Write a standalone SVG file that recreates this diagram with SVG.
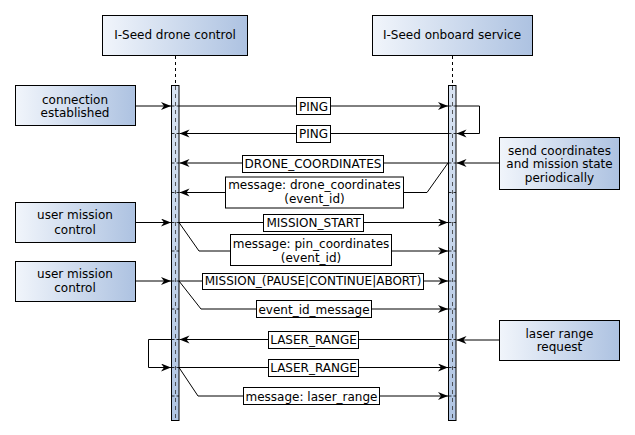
<svg xmlns="http://www.w3.org/2000/svg" width="635" height="435" viewBox="0 0 635 435">
<defs>
<linearGradient id="gBox" x1="0" y1="0" x2="1" y2="0">
<stop offset="0" stop-color="#f1f5fb"/>
<stop offset="1" stop-color="#adc2e1"/>
</linearGradient>
<linearGradient id="gBar" x1="0" y1="0" x2="0" y2="1">
<stop offset="0" stop-color="#d9e4f3"/>
<stop offset="1" stop-color="#b0c5e3"/>
</linearGradient>
<marker id="arr" markerUnits="userSpaceOnUse" markerWidth="11" markerHeight="9" refX="10" refY="4" orient="auto" viewBox="0 0 11 9">
<path d="M0,0 L10,4 L0,8 L3,4 z" fill="#000"/>
</marker>
</defs>
<style>
.box{fill:url(#gBox);stroke:#000;stroke-width:1}
.bar{fill:url(#gBar);stroke:#000;stroke-width:1}
.lbl{fill:#fff;stroke:#000;stroke-width:1}
.ar{fill:none;stroke:#000;stroke-width:1;marker-end:url(#arr)}
.life{fill:none;stroke:#000;stroke-width:1;stroke-dasharray:3 3}
.life2{fill:none;stroke:#333;stroke-width:0.8;stroke-dasharray:4 4}
.tick{fill:none;stroke:#000;stroke-width:0.8;stroke-dasharray:3 2}
text{font-family:"DejaVu Sans","Liberation Sans",sans-serif;font-size:12px;fill:#000;text-anchor:middle}
</style>
<rect width="635" height="435" fill="#fff"/>

<g id="lifeline-drone">
<rect class="box" x="102.5" y="15.5" width="145" height="40"/>
<text x="175" y="39">I-Seed drone control</text>
<line class="life" x1="175.5" y1="56" x2="175.5" y2="85"/>
<rect class="bar" x="171.5" y="85.5" width="7.5" height="335"/>
<line class="life2" x1="175.5" y1="86" x2="175.5" y2="420"/>
</g>
<g id="lifeline-onboard">
<rect class="box" x="372.5" y="15.5" width="160" height="40"/>
<text x="452" y="39">I-Seed onboard service</text>
<line class="life" x1="452.5" y1="56" x2="452.5" y2="85"/>
<rect class="bar" x="448.5" y="85.5" width="7.5" height="335"/>
<line class="life2" x1="452.5" y1="86" x2="452.5" y2="420"/>
</g>

<g id="ev-connection">
<rect class="box" x="15.5" y="85.5" width="120" height="40"/>
<text x="75" y="103.5">connection</text>
<text x="75" y="117">established</text>
</g>
<g id="ev-user1">
<rect class="box" x="15.5" y="202.5" width="120" height="40"/>
<text x="75" y="219">user mission</text>
<text x="75" y="233.5">control</text>
</g>
<g id="ev-user2">
<rect class="box" x="15.5" y="261.5" width="120" height="40"/>
<text x="75" y="277.5">user mission</text>
<text x="75" y="292">control</text>
</g>
<g id="ev-send">
<rect class="box" x="499.5" y="137.5" width="120" height="52"/>
<text x="559.5" y="154.5">send coordinates</text>
<text x="559.5" y="168">and mission state</text>
<text x="559.5" y="182">periodically</text>
</g>
<g id="ev-laser">
<rect class="box" x="499.5" y="320.5" width="120" height="40"/>
<text x="559.5" y="337.5">laser range</text>
<text x="559.5" y="351">request</text>
</g>

<g id="ticks">
<path class="tick" d="M171.5,106 H179 M171.5,133.5 H179 M171.5,163 H179 M171.5,192.5 H179 M171.5,222.5 H179 M171.5,251 H179 M171.5,281 H179 M171.5,309 H179 M171.5,339.5 H179 M171.5,367.5 H179 M171.5,396 H179"/>
<path class="tick" d="M448.5,106 H456 M448.5,133.5 H456 M448.5,163 H456 M448.5,192.5 H456 M448.5,222.5 H456 M448.5,251 H456 M448.5,281 H456 M448.5,309 H456 M448.5,339.5 H456 M448.5,367.5 H456 M448.5,396 H456"/>
</g>

<g id="connectors">
<line class="ar" x1="135.5" y1="106" x2="171" y2="106"/>
<line class="ar" x1="179" y1="106" x2="448" y2="106"/>
<path class="ar" d="M456,106 H479.5 V133.5 H456.5"/>
<line class="ar" x1="448" y1="133.5" x2="179.5" y2="133.5"/>
<line class="ar" x1="499.5" y1="163" x2="456.5" y2="163"/>
<line class="ar" x1="448" y1="163" x2="179.5" y2="163"/>
<path class="ar" d="M448,163 L427,192.5 H179.5"/>
<line class="ar" x1="135.5" y1="222.5" x2="171" y2="222.5"/>
<line class="ar" x1="179" y1="222.5" x2="448" y2="222.5"/>
<path class="ar" d="M179,222.5 L199,251 H448"/>
<line class="ar" x1="135.5" y1="281" x2="171" y2="281"/>
<line class="ar" x1="179" y1="281" x2="448" y2="281"/>
<path class="ar" d="M179,281 L201,309 H448"/>
<line class="ar" x1="499.5" y1="340" x2="456.5" y2="340"/>
<line class="ar" x1="448" y1="339.5" x2="179.5" y2="339.5"/>
<path class="ar" d="M171.5,339.5 H148.5 V367.5 H171"/>
<line class="ar" x1="179" y1="367.5" x2="448" y2="367.5"/>
<path class="ar" d="M179,367.5 L198,396 H448"/>
</g>

<g id="labels">
<rect class="lbl" x="296.5" y="97.5" width="34" height="17"/>
<text x="313.5" y="110.5">PING</text>
<rect class="lbl" x="296.5" y="125.5" width="34" height="17"/>
<text x="313.5" y="138">PING</text>
<rect class="lbl" x="242.5" y="155.5" width="141" height="17"/>
<text x="313" y="167.5">DRONE_COORDINATES</text>
<rect class="lbl" x="225.5" y="177" width="178" height="31"/>
<text x="314.5" y="189">message: drone_coordinates</text>
<text x="314.5" y="203">(event_id)</text>
<rect class="lbl" x="263.5" y="214.5" width="100" height="17"/>
<text x="313.5" y="227">MISSION_START</text>
<rect class="lbl" x="230.5" y="234.5" width="161" height="31"/>
<text x="311" y="247.5">message: pin_coordinates</text>
<text x="311" y="261.5">(event_id)</text>
<rect class="lbl" x="202.5" y="273.5" width="221" height="16"/>
<text x="313" y="285">MISSION_(PAUSE|CONTINUE|ABORT)</text>
<rect class="lbl" x="256.5" y="300.5" width="115" height="17"/>
<text x="314" y="313.5">event_id_message</text>
<rect class="lbl" x="268.5" y="331.5" width="90" height="17"/>
<text x="313.5" y="344">LASER_RANGE</text>
<rect class="lbl" x="268.5" y="359.5" width="90" height="17"/>
<text x="313.5" y="372">LASER_RANGE</text>
<rect class="lbl" x="243.5" y="387.5" width="136" height="17"/>
<text x="311.5" y="400.5">message: laser_range</text>
</g>
</svg>
